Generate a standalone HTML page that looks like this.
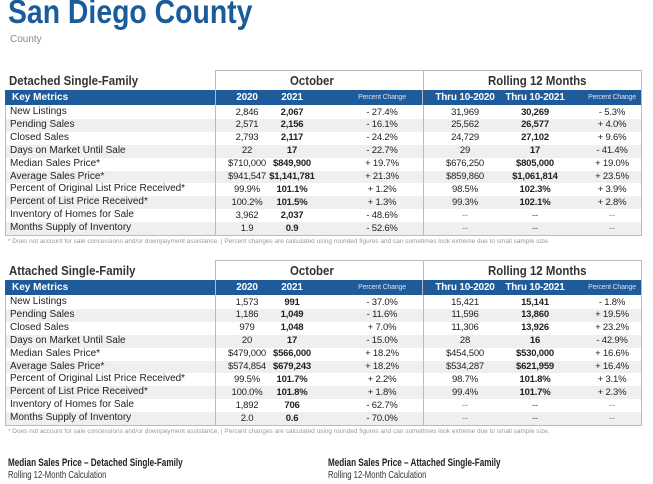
<!DOCTYPE html>
<html><head><meta charset="utf-8"><style>
body{margin:0;width:653px;height:484px;overflow:hidden;background:#fff;font-family:"Liberation Sans",sans-serif;position:relative}
.a{position:absolute;white-space:nowrap}
.t{font-weight:bold;color:#1a5b9c;font-size:33px;left:8px;top:-7px;transform:scaleX(.86);transform-origin:left top}
.h{font-weight:bold;font-size:13px;color:#333;transform:scaleX(.88);transform-origin:left top}
.h2{font-weight:bold;font-size:11px;color:#222;transform:scaleX(.74);transform-origin:left top}
.c{font-size:9.5px;color:#222;text-align:center;letter-spacing:-0.2px}
.box{position:absolute;border:1px solid #bbb;box-sizing:border-box}
.bar{position:absolute;background:#1f5b9b;left:5px;width:636px;height:15px}
.w{color:#fff;font-weight:bold;font-size:10px}
.pc{font-size:7px;color:#dde}
.fn{font-size:6.8px;color:#999;left:8px;transform:scaleX(.95);transform-origin:left top}
</style></head><body>
<div class="a t">San Diego County</div>
<div class="a" style="left:10px;top:34px;font-size:10px;color:#888">County</div>
<div id="root"></div>
<div class="a h2" style="left:8px;top:457px">Median Sales Price – Detached Single-Family</div>
<div class="a" style="left:8px;top:470px;font-size:10px;color:#333;transform:scaleX(.77);transform-origin:left top">Rolling 12-Month Calculation</div>
<div class="a h2" style="left:328px;top:457px">Median Sales Price – Attached Single-Family</div>
<div class="a" style="left:328px;top:470px;font-size:10px;color:#333;transform:scaleX(.77);transform-origin:left top">Rolling 12-Month Calculation</div>
<script>
const metrics=["New Listings","Pending Sales","Closed Sales","Days on Market Until Sale","Median Sales Price*","Average Sales Price*","Percent of Original List Price Received*","Percent of List Price Received*","Inventory of Homes for Sale","Months Supply of Inventory"];
const detached=[
["2,846","2,067","- 27.4%","31,969","30,269","- 5.3%"],
["2,571","2,156","- 16.1%","25,562","26,577","+ 4.0%"],
["2,793","2,117","- 24.2%","24,729","27,102","+ 9.6%"],
["22","17","- 22.7%","29","17","- 41.4%"],
["$710,000","$849,900","+ 19.7%","$676,250","$805,000","+ 19.0%"],
["$941,547","$1,141,781","+ 21.3%","$859,860","$1,061,814","+ 23.5%"],
["99.9%","101.1%","+ 1.2%","98.5%","102.3%","+ 3.9%"],
["100.2%","101.5%","+ 1.3%","99.3%","102.1%","+ 2.8%"],
["3,962","2,037","- 48.6%","--","--","--"],
["1.9","0.9","- 52.6%","--","--","--"]];
const attached=[
["1,573","991","- 37.0%","15,421","15,141","- 1.8%"],
["1,186","1,049","- 11.6%","11,596","13,860","+ 19.5%"],
["979","1,048","+ 7.0%","11,306","13,926","+ 23.2%"],
["20","17","- 15.0%","28","16","- 42.9%"],
["$479,000","$566,000","+ 18.2%","$454,500","$530,000","+ 16.6%"],
["$574,854","$679,243","+ 18.2%","$534,287","$621,959","+ 16.4%"],
["99.5%","101.7%","+ 2.2%","98.7%","101.8%","+ 3.1%"],
["100.0%","101.8%","+ 1.8%","99.4%","101.7%","+ 2.3%"],
["1,892","706","- 62.7%","--","--","--"],
["2.0","0.6","- 70.0%","--","--","--"]];
const headers=["2020","2021","Percent Change","Thru 10-2020","Thru 10-2021","Percent Change"];
const cx=[247,292,382,465,535,612];
const root=document.getElementById('root');
function el(cls,style,txt,name){const d=document.createElement('div');d.className=cls;d.style.cssText=style;if(txt!=null)d.textContent=txt;


root.appendChild(d);return d;}
function section(top,title,data,key){
 const rh=12.9, r0=top+36, bottom=r0+rh*10;
 for(let i=0;i<10;i++){ if(i%2==1) el('a',`left:5px;width:636px;top:${r0+i*rh}px;height:${rh}px;background:#efefef`,null,key+'-row-shade');}
 el('box',`left:215px;top:${top}px;width:209px;height:${bottom-top+1}px`,null,key+'-october-box');
 el('box',`left:423px;top:${top}px;width:219px;height:${bottom-top+1}px`,null,key+'-rolling-box');
 el('box',`left:5px;top:${top+20}px;width:637px;height:${bottom-top-19}px;border-top:none`,null,key+'-table-border');
 el('a h',`left:9px;top:${top+3}px`,title,key+'-section-title');
 el('a h',`left:290px;top:${top+3}px`,'October',key+'-october-header');
 el('a h',`left:488px;top:${top+3}px`,'Rolling 12 Months',key+'-rolling-header');
 el('bar',`top:${top+20}px`,null,key+'-header-bar');
 el('a w',`left:12px;top:${top+22}px`,'Key Metrics',key+'-key-metrics-header');
 headers.forEach((h,j)=>{const pc=h==='Percent Change';el('a c '+(pc?'pc':'w'),`left:${cx[j]-40}px;width:80px;top:${top+(pc?24:22)}px`,h,key+'-col-header');});
 el('a',`left:422px;top:${top+20}px;width:1px;height:15px;background:#bbb`,null,key+'-bar-divider');
 el('a',`left:215px;top:${top+20}px;width:1px;height:15px;background:#bbb`,null,key+'-bar-divider');
 for(let i=0;i<10;i++){const y=r0+i*rh;
  el('a',`left:10px;top:${y}px;font-size:10px;color:#222`,metrics[i],key+'-metric-label');
  data[i].forEach((v,j)=>{el('a c',`left:${cx[j]-45}px;width:90px;top:${y+0.5}px;${(j==1||j==4)?'font-weight:bold;':''}${(v==='--')?'color:#888;':''}`,v,key+'-cell');});}
 el('a fn',`top:${bottom+3}px`,'* Does not account for sale concessions and/or downpayment assistance.  |  Percent changes are calculated using rounded figures and can sometimes look extreme due to small sample size.',key+'-footnote');
}
section(70,'Detached Single-Family',detached,'detached');
section(260,'Attached Single-Family',attached,'attached');
</script>
</body></html>
